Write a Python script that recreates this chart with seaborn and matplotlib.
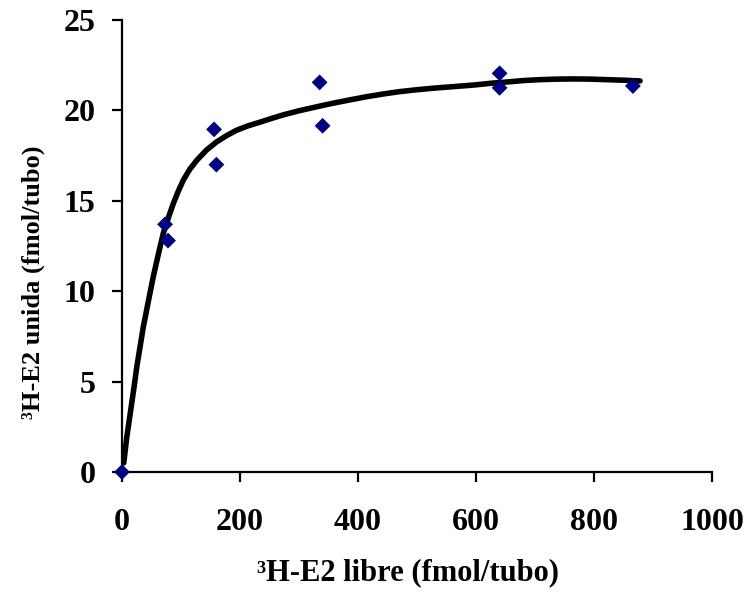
import matplotlib
matplotlib.use("Agg")
import matplotlib.pyplot as plt
import seaborn as sns
import pandas as pd

# Observed data points
libre = [0, 73, 78, 156, 160, 335, 340, 640, 640, 866]
unida = [0, 13.7, 12.8, 18.95, 17.0, 21.55, 19.15, 22.05, 21.25, 21.35]

# Fitted curve
curve_x = [3, 8, 14, 20, 25, 36, 45, 53, 62, 70, 80, 87, 95, 104, 115, 127, 143,
           160, 177, 194, 214, 234, 253, 273, 300, 330, 358, 386, 415, 443, 471,
           499, 528, 556, 595, 625, 652, 680, 708, 737, 765, 793, 822, 850, 878]
curve_y = [0.5, 1.9, 3.25, 4.6, 5.8, 8.0, 9.5, 10.8, 12.1, 13.2, 14.2, 14.85,
           15.5, 16.15, 16.75, 17.25, 17.8, 18.25, 18.6, 18.9, 19.15, 19.35, 19.55,
           19.75, 19.98, 20.2, 20.4, 20.58, 20.76, 20.91, 21.04, 21.14, 21.23, 21.3,
           21.4, 21.5, 21.57, 21.65, 21.7, 21.73, 21.74, 21.73, 21.7, 21.67, 21.63]

x_ticks = [0, 200, 400, 600, 800, 1000]
y_ticks = [0, 5, 10, 15, 20, 25]

sns.set_theme(style="ticks")
plt.rcParams['font.family'] = ['Liberation Serif', 'DejaVu Serif']
plt.rcParams['font.weight'] = 'bold'
plt.rcParams['text.color'] = 'black'
plt.rcParams['axes.labelcolor'] = 'black'
plt.rcParams['xtick.color'] = 'black'
plt.rcParams['ytick.color'] = 'black'

fig = plt.figure(figsize=(7.47, 5.94), dpi=100)
ax = fig.add_axes([122/747, 1-472/594, 590/747, 452/594])

pts = pd.DataFrame({"libre": libre, "unida": unida})
crv = pd.DataFrame({"x": curve_x, "y": curve_y})

sns.lineplot(data=crv, x="x", y="y", ax=ax, color="black", linewidth=4,
             sort=False, zorder=2)
sns.scatterplot(data=pts, x="libre", y="unida", ax=ax, marker="D", s=65,
                color="#000080", edgecolor="none", zorder=3, clip_on=False)

ax.set_xlim(0, 1000)
ax.set_ylim(0, 25)
ax.set_xticks(x_ticks)
ax.set_yticks(y_ticks)
ax.tick_params(axis='both', direction='out', length=7, width=1.6, colors='black',
               labelsize=23)
ax.tick_params(axis='x', pad=19)
ax.tick_params(axis='y', pad=12)
for lab in ax.get_xticklabels() + ax.get_yticklabels():
    lab.set_fontweight('bold')

for s in ['top', 'right']:
    ax.spines[s].set_visible(False)
for s in ['left', 'bottom']:
    ax.spines[s].set_linewidth(1.6)
    ax.spines[s].set_color('black')

ax.set_xlabel("³H-E2 libre (fmol/tubo)", fontsize=22, fontweight='bold')
ax.set_ylabel("³H-E2 unida (fmol/tubo)", fontsize=19, fontweight='bold')
ax.xaxis.set_label_coords(0.485, -0.19)
ax.yaxis.set_label_coords(-0.13, 0.42)

fig.savefig("out.png", dpi=100)
